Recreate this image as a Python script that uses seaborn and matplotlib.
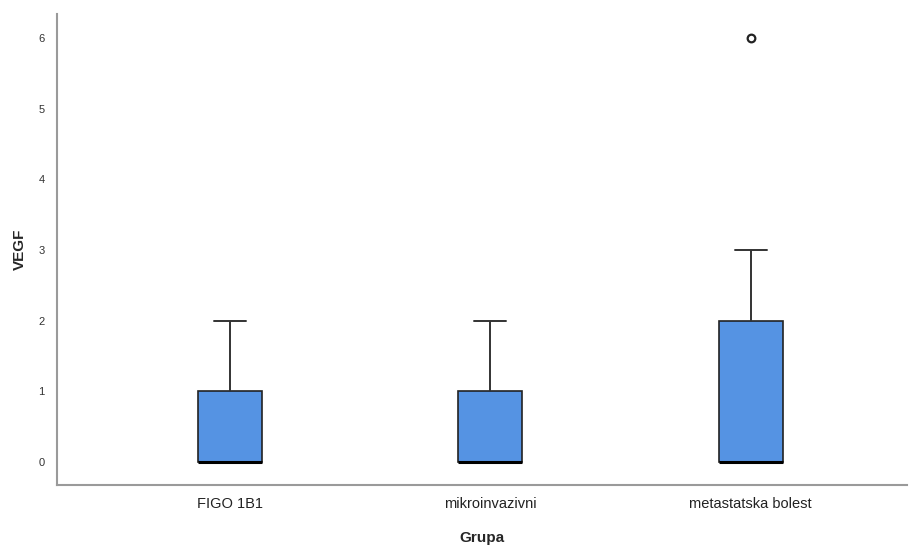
import matplotlib
matplotlib.use("Agg")
import matplotlib.pyplot as plt
import seaborn as sns
import pandas as pd

categories = ["FIGO 1B1", "mikroinvazivni", "metastatska bolest"]
figo_vals = [0, 0, 0, 0, 0, 0, 1, 1, 1, 2]
mikro_vals = [0, 0, 0, 0, 0, 0, 1, 1, 1, 2]
meta_vals = [0, 0, 0, 0, 0, 0, 0, 2, 2, 2, 3, 6]
yticks = [0, 1, 2, 3, 4, 5, 6]

rows = []
for cat, vals in zip(categories, [figo_vals, mikro_vals, meta_vals]):
    for v in vals:
        rows.append({"Grupa": cat, "VEGF": v})
df = pd.DataFrame(rows)

sns.set_style("white")
plt.rcParams["font.family"] = ["Liberation Sans", "DejaVu Sans"]

fig = plt.figure(figsize=(9.09, 5.47), dpi=100)
ax = fig.add_axes([57/909, 1-485/547, (907-57)/909, (485-14)/547])

sns.boxplot(data=df, x="Grupa", y="VEGF", order=categories, ax=ax,
            color="#5593e3", saturation=1, width=0.246,
            linewidth=1.2, linecolor="#222222",
            whis=1.5,
            medianprops=dict(color="black", linewidth=2.2),
            flierprops=dict(marker="o", markerfacecolor="white",
                            markeredgecolor="#222222", markersize=5.5,
                            markeredgewidth=1.6),
            whiskerprops=dict(color="#333333", linewidth=1.4),
            capprops=dict(color="#333333", linewidth=1.4))

# adjust cap widths to half the box width
for line in ax.lines:
    xd = line.get_xdata()
    yd = line.get_ydata()
    if len(xd) == 2 and yd[0] == yd[1] and xd[0] != xd[1]:
        c = (xd[0] + xd[1]) / 2
        w = abs(xd[1] - xd[0])
        if w < 0.2:
            line.set_xdata([c - 0.0615, c + 0.0615])

ax.set_xlim(-0.665, 2.6)
ax.set_ylim(-0.325, 6.34)
ax.set_yticks(yticks)
ax.set_yticklabels([str(t) for t in yticks])
ax.tick_params(axis="y", length=0, pad=9, labelsize=8, labelcolor="#333333")
ax.tick_params(axis="x", length=0, pad=8.5, labelsize=10.5, labelcolor="#222222")
ax.set_xlabel("Grupa", fontsize=11, fontweight="bold", labelpad=14.5)
ax.set_ylabel("VEGF", fontsize=11, fontweight="bold", labelpad=8)

for s in ["top", "right"]:
    ax.spines[s].set_visible(False)
for s in ["left", "bottom"]:
    ax.spines[s].set_color("#9a9a9a")
    ax.spines[s].set_linewidth(1.5)

fig.savefig("out.png", dpi=100)
